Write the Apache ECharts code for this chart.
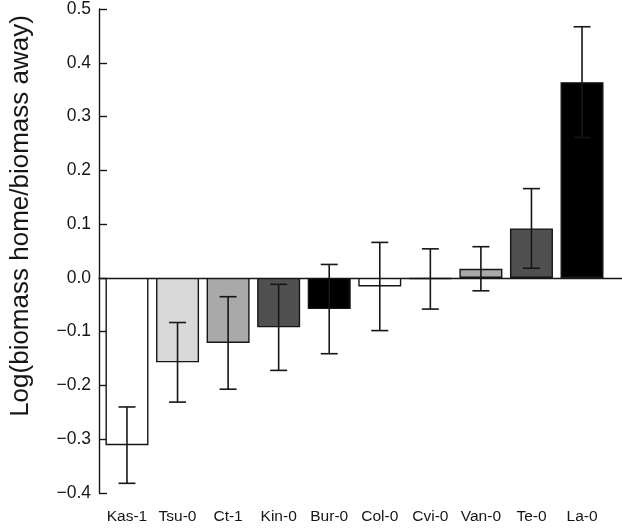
<!DOCTYPE html>
<html>
<head>
<meta charset="utf-8">
<script src="https://cdn.jsdelivr.net/npm/echarts@6/dist/echarts.min.js"></script>
<style>
  html, body { margin: 0; padding: 0; background: #fff; }
  #chart { width: 622px; height: 528px; }
</style>
</head>
<body>
<div id="chart"></div>
<script>
const accessions = ['Kas-1', 'Tsu-0', 'Ct-1', 'Kin-0', 'Bur-0', 'Col-0', 'Cvi-0', 'Van-0', 'Te-0', 'La-0'];
const meanValues = [-0.311, -0.157, -0.121, -0.092, -0.058, -0.016, -0.002, 0.017, 0.092, 0.364];
const errValues = [0.071, 0.074, 0.086, 0.080, 0.083, 0.082, 0.056, 0.041, 0.074, 0.103];
const barShades = ['#ffffff', '#d9d9d9', '#a9a9a9', '#505050', '#000000', '#ffffff', '#d9d9d9', '#a9a9a9', '#505050', '#000000'];
const yTicks = { min: -0.4, max: 0.5, step: 0.1 };

const font = 'Liberation Sans, Arial, sans-serif';
const ink = '#161616';

const chart = echarts.init(document.getElementById('chart'));

const option = {
    animation: false,
    backgroundColor: '#fff',
    grid: [
        { left: 101.7, right: 14.7, top: 9, height: 484 },
        { left: 85.5, right: 0, top: 9, height: 484 }
    ],
    xAxis: [
        {
            type: 'category',
            gridIndex: 0,
            data: accessions,
            axisLine: { show: false, onZero: false },
            axisTick: { show: false },
            axisLabel: { interval: 0, fontSize: 15.5, color: ink, fontFamily: font, margin: 16 }
        },
        {
            type: 'value',
            gridIndex: 1,
            min: 0,
            max: 1,
            axisLine: { show: true, onZero: true, lineStyle: { color: ink, width: 1.4 } },
            axisTick: { show: false },
            axisLabel: { show: false },
            splitLine: { show: false }
        }
    ],
    yAxis: [
        {
            type: 'value',
            gridIndex: 0,
            min: yTicks.min,
            max: yTicks.max,
            interval: yTicks.step,
            show: false
        },
        {
            type: 'value',
            gridIndex: 1,
            min: yTicks.min,
            max: yTicks.max,
            interval: yTicks.step,
            name: 'Log(biomass home/biomass away)',
            nameLocation: 'middle',
            nameGap: 65,
            nameTextStyle: { fontSize: 26, color: ink, fontFamily: font, padding: [0, 0, 0, 70] },
            axisLine: { show: true, lineStyle: { color: ink, width: 1.4 } },
            axisTick: { show: true, inside: true, length: 8, lineStyle: { color: ink, width: 1.4 } },
            axisLabel: {
                fontSize: 17.5,
                color: ink,
                fontFamily: font,
                margin: 8,
                formatter: v => v.toFixed(1).replace('-', '\u2212')
            },
            splitLine: { show: false }
        }
    ],
    series: [
        {
            type: 'bar',
            xAxisIndex: 0,
            yAxisIndex: 0,
            barWidth: 43,
            data: meanValues.map((v, i) => ({
                value: v,
                itemStyle: { color: barShades[i], borderColor: ink, borderWidth: 1.4 }
            })),
            z: 2
        },
        {
            type: 'custom',
            xAxisIndex: 0,
            yAxisIndex: 0,
            z: 5,
            data: meanValues.map((v, i) => [i, v - errValues[i], v + errValues[i]]),
            renderItem: (params, api) => {
                const lo = api.coord([api.value(0), api.value(1)]);
                const hi = api.coord([api.value(0), api.value(2)]);
                const half = 8.5;
                const style = { stroke: ink, lineWidth: 1.6 };
                return {
                    type: 'group',
                    children: [
                        { type: 'line', shape: { x1: lo[0], y1: lo[1], x2: hi[0], y2: hi[1] }, style },
                        { type: 'line', shape: { x1: lo[0] - half, y1: lo[1], x2: lo[0] + half, y2: lo[1] }, style },
                        { type: 'line', shape: { x1: hi[0] - half, y1: hi[1], x2: hi[0] + half, y2: hi[1] }, style }
                    ]
                };
            }
        }
    ]
};

chart.setOption(option);
window.addEventListener('resize', () => chart.resize());
</script>
</body>
</html>
